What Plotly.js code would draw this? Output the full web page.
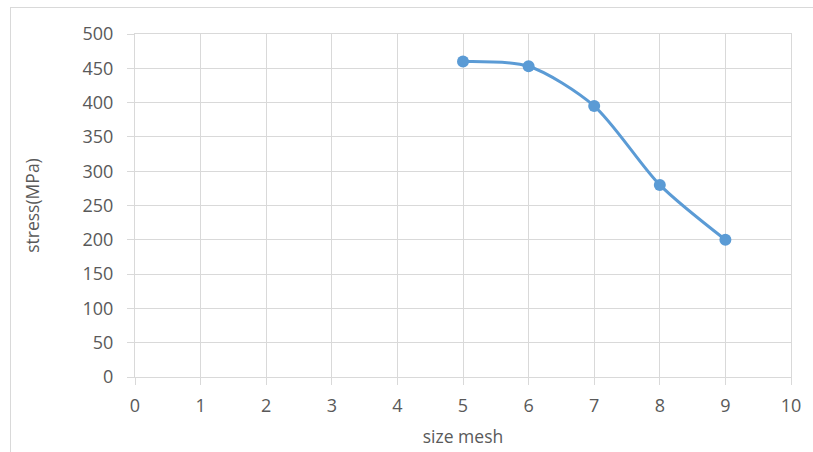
<!DOCTYPE html>
<html>
<head>
<meta charset="utf-8">
<script src="https://cdn.plot.ly/plotly-3.0.1.min.js"></script>
<style>
  html, body { margin: 0; padding: 0; background: #fff; }
  #wrap { position: relative; width: 813px; height: 452px; overflow: hidden; }
  #frame { position: absolute; left: 10px; top: 7px; width: 820px; height: 460px; border: 1px solid #d9d9d9; box-sizing: border-box; }
  #chart { position: absolute; left: 0; top: 0; width: 813px; height: 452px; }
</style>
</head>
<body>
<div id="wrap">
  <div id="frame"></div>
  <div id="chart"></div>
</div>
<script>
const sizeMesh = [5, 6, 7, 8, 9];
const stress = [460, 453, 395, 280, 200];
const xTicks = [0, 1, 2, 3, 4, 5, 6, 7, 8, 9, 10];
const yTicks = [0, 50, 100, 150, 200, 250, 300, 350, 400, 450, 500];
const xTitle = 'size mesh';
const yTitle = 'stress(MPa)';

const tickFont = { family: 'Open Sans, Segoe UI, sans-serif', size: 18, color: '#595959' };
const titleFont = { family: 'Open Sans, Segoe UI, sans-serif', size: 17.5, color: '#595959' };

Plotly.newPlot('chart', [{
  x: sizeMesh,
  y: stress,
  type: 'scatter',
  mode: 'lines+markers',
  line: { color: '#5B9BD5', width: 3, shape: 'spline', smoothing: 0.8 },
  marker: { color: '#5B9BD5', size: 12 },
  showlegend: false,
  hoverinfo: 'skip'
}], {
  width: 813,
  height: 452,
  paper_bgcolor: 'rgba(0,0,0,0)',
  plot_bgcolor: 'rgba(0,0,0,0)',
  margin: { l: 135, r: 22, t: 34, b: 75 },
  font: tickFont,
  xaxis: {
    range: [0, 10],
    tickvals: xTicks,
    ticktext: xTicks.map(String),
    showgrid: true,
    gridcolor: '#d9d9d9',
    gridwidth: 1,
    zeroline: false,
    showline: true,
    linecolor: '#d9d9d9',
    mirror: true,
    ticks: 'outside',
    ticklen: 7,
    tickcolor: '#d9d9d9',
    tickfont: tickFont,
    ticklabelstandoff: 5,
    title: { text: xTitle, font: titleFont, standoff: 15 }
  },
  yaxis: {
    range: [0, 500],
    tickvals: yTicks,
    ticktext: yTicks.map(String),
    showgrid: true,
    gridcolor: '#d9d9d9',
    gridwidth: 1,
    zeroline: false,
    showline: true,
    linecolor: '#d9d9d9',
    mirror: true,
    ticks: 'outside',
    ticklen: 7,
    tickcolor: '#d9d9d9',
    tickfont: tickFont,
    ticklabelstandoff: 10,
    title: { text: yTitle, font: titleFont, standoff: 38 }
  }
}, { staticPlot: true, displayModeBar: false });
</script>
</body>
</html>
